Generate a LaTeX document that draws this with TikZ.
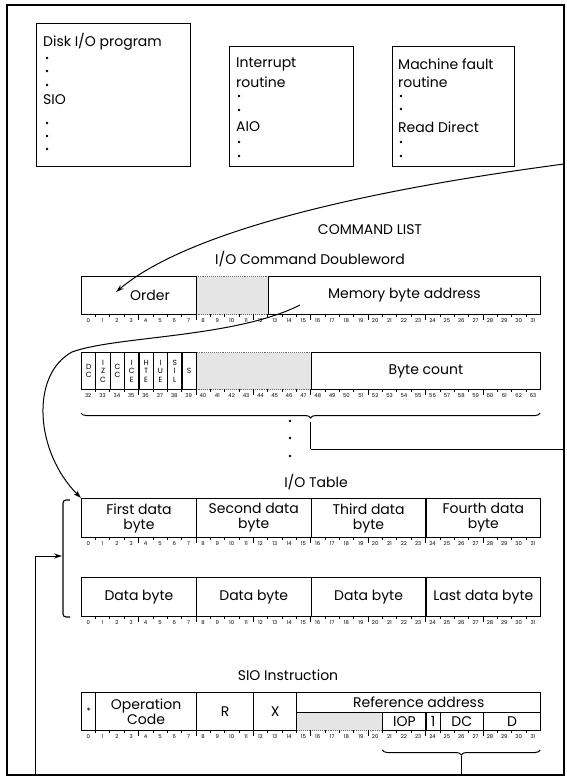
\documentclass[tikz,border=0pt]{standalone}
\usepackage{fontspec}
\setmainfont{Poppins}
\usetikzlibrary{arrows.meta,decorations.pathreplacing}
\newcommand\fld[7][]{%
  \pgfmathsetmacro\fx{81+14.35*#3}%
  \pgfmathsetmacro\fw{14.35*(#4-#3)}%
  \node[cell,#1,minimum width=\fw pt,minimum height=#6 pt,anchor=north west] (#2) at (\fx,#5) {#7};}
\newcommand\bitnums[3]{%
  \foreach \i in {0,...,31}{%
    \pgfmathtruncatemacro\bn{#3+\i}%
    \node[bitn] (#1\i) at ({81+14.35*(\i+0.5)},#2+6.5) {\bn};}%
  \foreach \i in {1,...,31}{\draw[tick] ({81+14.35*\i},#2) -- ++(0,2.5);}%
  \foreach \i in {4,8,...,28}{\draw[tick] ({81+14.35*\i},#2) -- ++(0,6);}%
}
\begin{document}
\begin{tikzpicture}[x=1pt,y=-1pt,
  frame/.style={line width=2pt},
  tbox/.style={draw,line width=1.3pt,inner sep=0pt},
  cell/.style={draw,line width=1.1pt,inner sep=0pt,align=center,font=\fontsize{14}{15}\selectfont},
  shade/.style={fill=black!10,draw=black!60,densely dotted},
  lbl/.style={inner sep=0pt,font=\fontsize{14}{17}\selectfont},
  bitn/.style={inner sep=0pt,font=\fontsize{5.3}{5.3}\selectfont},
  tick/.style={line width=0.5pt},
  flag/.style={font=\fontsize{7.5}{8.6}\selectfont},
  dotm/.style={circle,fill,inner sep=0pt,minimum size=2.6pt},
  conn/.style={line width=1pt},
  arr/.style={line width=1pt,-{Stealth[length=8pt,width=5pt]}},
  brc/.style={line width=1pt,decorate,decoration={brace,amplitude=5pt}}]
\useasboundingbox (0,0) rectangle (566,780);
% outer frame
\draw[frame] (7,5) rectangle (564,775);

% top program boxes
\node[tbox,minimum width=154pt,minimum height=143pt,anchor=north west] (p1) at (36,23) {};
\node[tbox,minimum width=124pt,minimum height=120pt,anchor=north west] (p2) at (229,46) {};
\node[tbox,minimum width=122pt,minimum height=120pt,anchor=north west] (p3) at (392,46) {};

\node[lbl,anchor=west] (t11) at (43,42) {Disk I/O program};
\node[dotm] (d11) at (47,58) {};
\node[dotm] (d12) at (47,71) {};
\node[dotm] (d13) at (47,85) {};
\node[lbl,anchor=west] (t12) at (43,100) {SIO};
\node[dotm] (d14) at (47,123) {};
\node[dotm] (d15) at (47,136) {};
\node[dotm] (d16) at (47,149) {};

\node[lbl,anchor=west] (t21) at (236,64) {Interrupt};
\node[lbl,anchor=west] (t22) at (236,82) {routine};
\node[dotm] (d21) at (239,96) {};
\node[dotm] (d22) at (239,110) {};
\node[lbl,anchor=west] (t23) at (236,127) {AIO};
\node[dotm] (d23) at (239,142) {};
\node[dotm] (d24) at (239,156) {};

\node[lbl,anchor=west] (t31) at (398,64) {Machine fault};
\node[lbl,anchor=west] (t32) at (398,82) {routine};
\node[dotm] (d31) at (401,96) {};
\node[dotm] (d32) at (401,109) {};
\node[lbl,anchor=west] (t33) at (398,127) {Read Direct};
\node[dotm] (d33) at (401,142) {};
\node[dotm] (d34) at (401,156) {};

% command list
\node[lbl] (cl) at (370,230) {COMMAND LIST};
\node[lbl] (iocd) at (310,259) {I/O Command Doubleword};

% row 1
\fld[shade]{r1g}{8}{13}{276}{38}{}
\fld{r1o}{0}{8}{276}{38}{}
\fld{r1m}{13}{32}{276}{38}{Memory byte address}
\node[lbl] (ordt) at (150,295) {Order};
\bitnums{ra}{314}{0}

% row 2
\fld[shade]{r2g}{8}{16}{352}{37}{}
\fld[flag]{f0}{0}{1}{352}{37}{D\\C}
\fld[flag]{f1}{1}{2}{352}{37}{I\\Z\\C}
\fld[flag]{f2}{2}{3}{352}{37}{C\\C}
\fld[flag]{f3}{3}{4}{352}{37}{I\\C\\E}
\fld[flag]{f4}{4}{5}{352}{37}{H\\T\\E}
\fld[flag]{f5}{5}{6}{352}{37}{I\\U\\E}
\fld[flag]{f6}{6}{7}{352}{37}{S\\I\\L}
\fld[flag]{f7}{7}{8}{352}{37}{S}
\fld{r2b}{16}{32}{352}{37}{Byte count}
\bitnums{rb}{389}{32}

% brace under command doubleword
\coordinate (b2r) at (540.2,413);
\coordinate (b2l) at (81,413);
\draw[brc] (b2r) -- (b2l);
\coordinate (b2t) at (310.6,422);
\coordinate (b2c) at (310.6,449);
\coordinate (b2e) at (564,449);
\draw[line width=0.6pt] (b2t) -- (b2c);
\draw[conn] (b2c) -- (b2e);
\node[dotm] (v1) at (290,421) {};
\node[dotm] (v2) at (290,438) {};
\node[dotm] (v3) at (290,456) {};

% I/O table
\node[lbl] (iot) at (316,482) {I/O Table};
\fld{io1}{0}{8}{498}{39}{First data\\byte}
\fld{io2}{8}{16}{498}{39}{Second data\\byte}
\fld{io3}{16}{24}{498}{39}{Third data\\byte}
\fld{io4}{24}{32}{498}{39}{Fourth data\\byte}
\bitnums{rc}{537}{0}
\fld{io5}{0}{8}{577}{39}{Data byte}
\fld{io6}{8}{16}{577}{39}{Data byte}
\fld{io7}{16}{24}{577}{39}{Data byte}
\fld{io8}{24}{32}{577}{39}{Last data byte}
\bitnums{rd}{616}{0}

% bracket and feedback
\draw[line width=1.1pt,rounded corners=3pt] (70,500) -- (63,500) -- (63,617) -- (70,617);
\coordinate (brk) at (62,556);
\coordinate (fb0) at (35,775);
\coordinate (fb1) at (35,556);
\draw[arr] (fb0) -- (fb1) -- (brk);

% SIO instruction
\node[lbl] (siot) at (288,675) {SIO Instruction};
\fld[shade]{s6}{15}{21}{712}{18}{}
\fld[font=\fontsize{9}{9}\selectfont]{s0}{0}{1}{692}{38}{*}
\fld{s1}{1}{8}{692}{38}{Operation\\Code}
\fld{s2}{8}{12}{692}{38}{R}
\fld{s3}{12}{15}{692}{38}{X}
\fld{s4}{15}{32}{692}{20}{Reference address}
\fld{s7}{21}{24}{712}{18}{IOP}
\fld{s8}{24}{25}{712}{18}{1}
\fld{s9}{25}{28}{712}{18}{DC}
\fld{s10}{28}{32}{712}{18}{D}
\bitnums{re}{730}{0}
\coordinate (b3r) at (540.2,750);
\coordinate (b3l) at (382.4,750);
\draw[brc] (b3r) -- (b3l);
\coordinate (b3t) at (461.3,756);
\coordinate (b3b) at (461.3,775);
\draw[conn] (b3t) -- (b3b);

% connectors
\coordinate (c1s) at (564,164);
\coordinate (c1e) at (116,292);
\draw[arr] (c1s) .. controls (330,195) and (180,238) .. (c1e);
\coordinate (c2s) at (300,305);
\coordinate (c2k) at (72,352);
\draw[arr] (c2s) .. controls (235,338) and (115,336) .. (c2k) .. controls (30,375) and (35,452) .. (io1.north west);
\end{tikzpicture}
\end{document}
